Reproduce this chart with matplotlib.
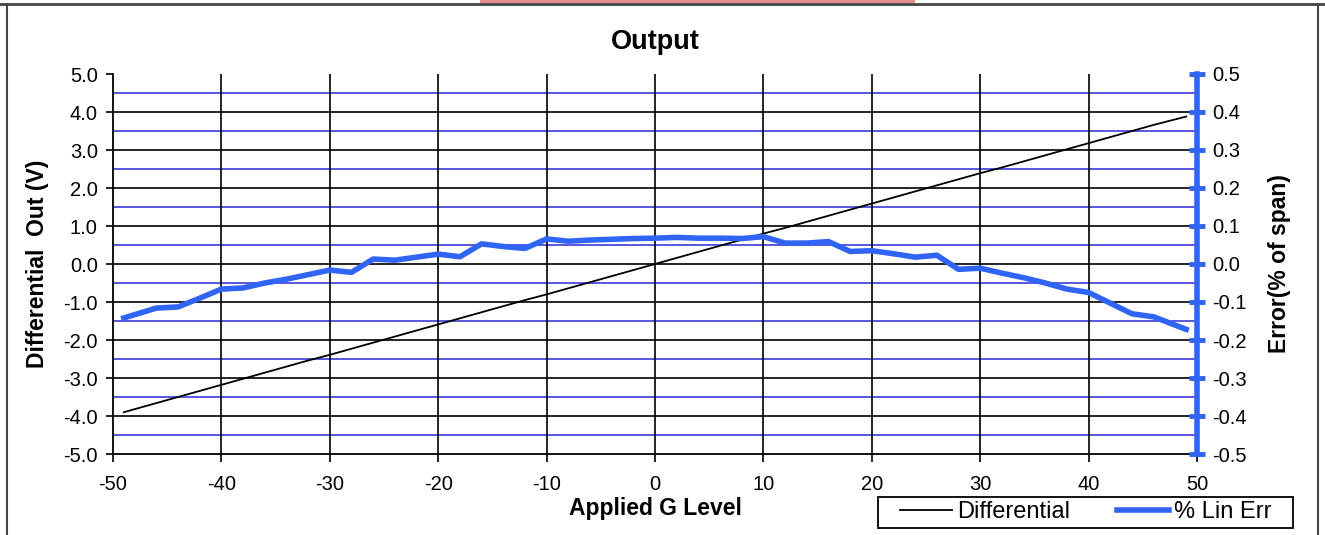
import numpy as np
import matplotlib.pyplot as plt
from matplotlib.lines import Line2D
from matplotlib.patches import Rectangle

plt.rcParams['font.family'] = ['Liberation Sans', 'DejaVu Sans']
plt.rcParams['axes.unicode_minus'] = False

# applied G level
g_level = [-49, -46, -44, -42, -40, -38, -36, -34, -32, -30, -28, -26, -24, -22, -20,
           -18, -16, -14, -12, -10, -8, -6, -4, -2, 0, 2, 4, 6, 8, 10, 12, 14, 16, 18,
           20, 22, 24, 26, 28, 30, 32, 34, 36, 38, 40, 42, 44, 46, 49]

# differential output (V)
differential = [-3.90, -3.66, -3.50, -3.34, -3.18, -3.02, -2.86, -2.70, -2.54, -2.39,
                -2.23, -2.07, -1.91, -1.75, -1.59, -1.43, -1.27, -1.11, -0.95, -0.80,
                -0.64, -0.48, -0.32, -0.16, 0.00, 0.16, 0.32, 0.48, 0.64, 0.80, 0.95,
                1.11, 1.27, 1.43, 1.59, 1.75, 1.91, 2.07, 2.23, 2.39, 2.54, 2.70, 2.86,
                3.02, 3.18, 3.34, 3.50, 3.66, 3.88]

# linearity error (% of span)
lin_err = [-0.142, -0.116, -0.113, -0.090, -0.066, -0.063, -0.050, -0.040, -0.028, -0.016,
           -0.022, 0.013, 0.010, 0.018, 0.026, 0.019, 0.053, 0.046, 0.041, 0.066,
           0.060, 0.063, 0.065, 0.067, 0.068, 0.070, 0.068, 0.068, 0.067, 0.072,
           0.055, 0.055, 0.059, 0.033, 0.035, 0.027, 0.018, 0.023, -0.014, -0.011,
           -0.024, -0.036, -0.050, -0.066, -0.075, -0.103, -0.131, -0.139, -0.172]

left_ticks = ['-5.0', '-4.0', '-3.0', '-2.0', '-1.0', '0.0', '1.0', '2.0', '3.0', '4.0', '5.0']
right_ticks = ['-0.5', '-0.4', '-0.3', '-0.2', '-0.1', '0.0', '0.1', '0.2', '0.3', '0.4', '0.5']

blue = '#2f64f5'
grid_blue = '#3b3bd9'
tick_fs = 14.5
label_fs = 16.5

fig = plt.figure(figsize=(13.25, 5.35), dpi=100)
ax = fig.add_axes([113/1325, 1 - 454/535, (1197-113)/1325, (454-74)/535])

# gridlines
for v in np.arange(-4.5, 5, 1.0):
    ax.axhline(v, color=grid_blue, lw=1.2, zorder=1)
for v in range(-4, 5):
    ax.axhline(v, color='black', lw=1.2, zorder=1)
for v in range(-40, 50, 10):
    ax.axvline(v, color='black', lw=1.2, zorder=1)

ax.plot(g_level, differential, color='black', lw=1.3, zorder=3)
ax.set_xlim(-50, 50)
ax.set_ylim(-5, 5)
ax.set_xticks(range(-50, 51, 10))
ax.set_yticks(range(-5, 6))
ax.set_yticklabels(left_ticks)
ax.tick_params(axis='both', labelsize=tick_fs, length=5, width=1.2, direction='out')
ax.tick_params(axis='y', pad=6)
ax.tick_params(axis='x', length=6, pad=9)
ax.spines['top'].set_visible(False)
ax.spines['right'].set_visible(False)
for s in ['left', 'bottom']:
    ax.spines[s].set_linewidth(1.3)
ax.set_xlabel('Applied G Level', fontsize=label_fs, fontweight='bold', labelpad=2)
ax.set_ylabel('Differential  Out (V)', fontsize=label_fs, fontweight='bold', labelpad=10)
ax.set_title('Output', fontsize=19.5, fontweight='bold', pad=18)

ax2 = ax.twinx()
ax2.plot(g_level, lin_err, color=blue, lw=4, zorder=4)
ax2.set_ylim(-0.5, 0.5)
ax2.set_yticks([float(t) for t in right_ticks])
ax2.set_yticklabels(right_ticks)
ax2.tick_params(axis='y', labelsize=tick_fs, length=12, width=3.5, color=blue,
                direction='inout', pad=5)
for s in ['top', 'left', 'bottom']:
    ax2.spines[s].set_visible(False)
ax2.spines['right'].set_color(blue)
ax2.spines['right'].set_linewidth(4)
ax2.set_ylabel('Error(% of span)', fontsize=label_fs, fontweight='bold', labelpad=15)

# legend box drawn by hand, entries centred inside it
fig.add_artist(Rectangle((878/1325, 1 - 528/535), 415/1325, 31/535, transform=fig.transFigure,
                         facecolor='white', edgecolor='black', lw=1.3))
handles = [Line2D([], [], color='black', lw=1.3), Line2D([], [], color=blue, lw=4)]
fig.legend(handles, ['Differential', '% Lin Err'], ncol=2, fontsize=17,
           loc='center', bbox_to_anchor=(1085.5/1325, 1 - 512.5/535),
           frameon=False, handlelength=2.2, columnspacing=2.0,
           borderpad=0, handletextpad=0.2, borderaxespad=0)

# page border and the red strip at the top
fig.add_artist(Line2D([7/1325, 7/1325], [0, 1 - 4/535], color='#444444', lw=1.5,
                      transform=fig.transFigure))
fig.add_artist(Line2D([1318/1325, 1318/1325], [0, 1 - 4/535], color='#444444', lw=1.5,
                      transform=fig.transFigure))
fig.add_artist(Line2D([0, 1], [1 - 4/535, 1 - 4/535], color='#444444', lw=2,
                      transform=fig.transFigure))
fig.add_artist(Rectangle((480/1325, 1 - 3/535), 435/1325, 3/535, color='#e89090',
                         transform=fig.transFigure, lw=0))

fig.savefig('out.png', dpi=100)
